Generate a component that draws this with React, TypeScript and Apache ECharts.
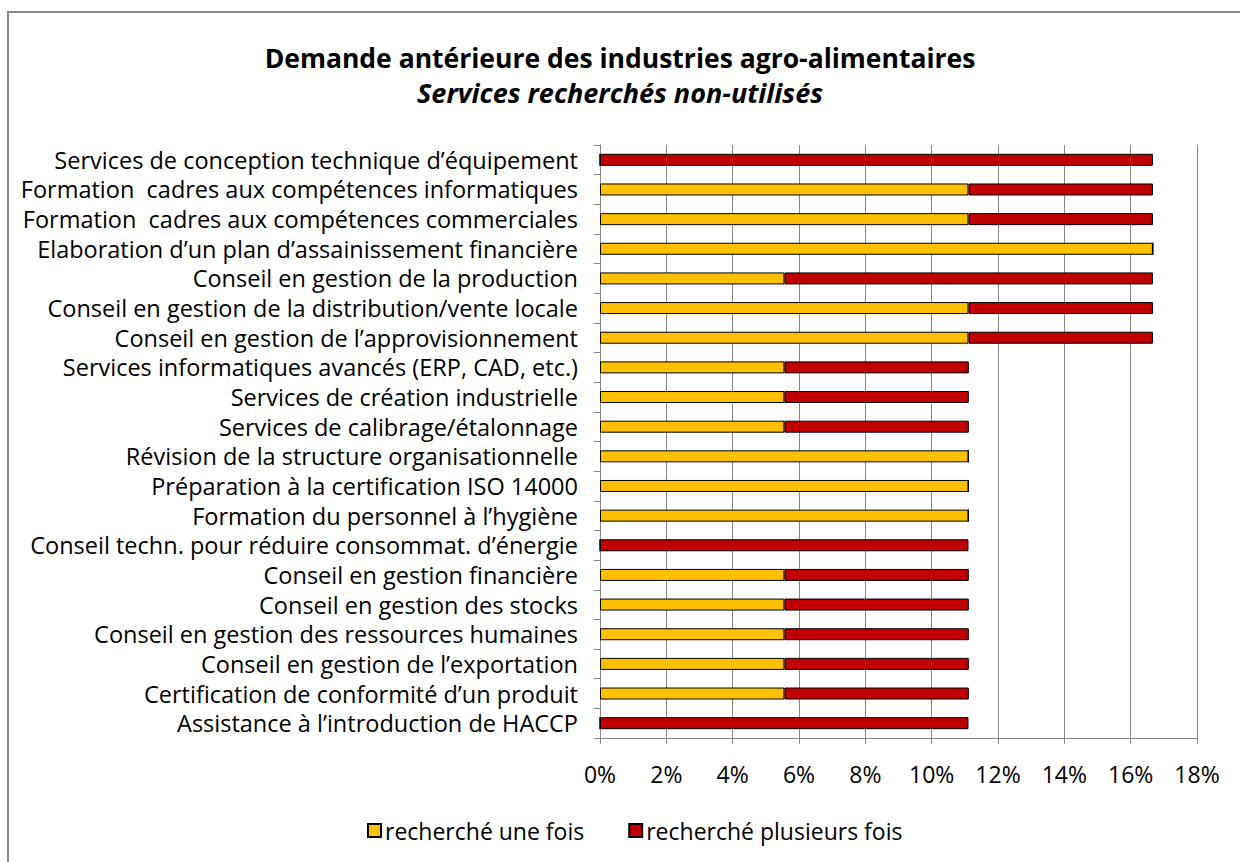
import React, { useEffect, useRef } from "react";
import * as echarts from "echarts";

const categories: string[] = [
  "Services de conception technique d’équipement",
  "Formation  cadres aux compétences informatiques",
  "Formation  cadres aux compétences commerciales",
  "Elaboration d’un plan d’assainissement financière",
  "Conseil en gestion de la production",
  "Conseil en gestion de la distribution/vente locale",
  "Conseil en gestion de l’approvisionnement",
  "Services informatiques avancés (ERP, CAD, etc.)",
  "Services de création industrielle",
  "Services de calibrage/étalonnage",
  "Révision de la structure organisationnelle",
  "Préparation à la certification ISO 14000",
  "Formation du personnel à l’hygiène",
  "Conseil techn. pour réduire consommat. d’énergie",
  "Conseil en gestion financière",
  "Conseil en gestion des stocks",
  "Conseil en gestion des ressources humaines",
  "Conseil en gestion de l’exportation",
  "Certification de conformité d’un produit",
  "Assistance à l’introduction de HACCP",
];

const uneFois: number[] = [
  0, 11.11, 11.11, 16.67, 5.56, 11.11, 11.11, 5.56, 5.56, 5.56,
  11.11, 11.11, 11.11, 0, 5.56, 5.56, 5.56, 5.56, 5.56, 0,
];

const plusieursFois: number[] = [
  16.67, 5.56, 5.56, 0, 11.11, 5.56, 5.56, 5.56, 5.56, 5.56,
  0, 0, 0, 11.11, 5.56, 5.56, 5.56, 5.56, 5.56, 11.11,
];

const seriesNames: string[] = ["recherché une fois", "recherché plusieurs fois"];
const titleText = "Demande antérieure des industries agro-alimentaires";
const subtitleText = "Services recherchés non-utilisés";

const FONT = "'Open Sans', Lato, sans-serif";

export default function App() {
  const ref = useRef<HTMLDivElement>(null);

  useEffect(() => {
    document.body.style.margin = "0";
    if (!ref.current) return;
    const chart = echarts.init(ref.current, undefined, { renderer: "svg" });
    chart.setOption({
      animation: false,
      backgroundColor: "#ffffff",
      textStyle: { fontFamily: FONT },
      graphic: [
        {
          type: "rect",
          shape: { x: 8, y: 12, width: 1300, height: 900 },
          style: { fill: "none", stroke: "#868686", lineWidth: 2 },
          silent: true,
        },
      ],
      title: [
        {
          text: titleText,
          left: "center",
          top: 39,
          textStyle: { fontFamily: FONT, fontSize: 26.5, fontWeight: "bold", color: "#000" },
        },
        {
          text: subtitleText,
          left: "center",
          top: 74,
          textStyle: { fontFamily: FONT, fontSize: 27, fontStyle: "italic", fontWeight: "bold", color: "#000" },
        },
      ],
      legend: {
        top: 814,
        left: 362,
        icon: "rect",
        itemWidth: 13,
        itemHeight: 13,
        itemGap: 44,
        textStyle: { fontFamily: FONT, fontSize: 23, color: "#000", padding: [0, 0, 0, -1] },
        data: seriesNames,
      },
      grid: { left: 600, right: 43, top: 145, bottom: 124, containLabel: false },
      xAxis: {
        type: "value",
        min: 0,
        max: 18,
        interval: 2,
        axisLine: { show: true, lineStyle: { color: "#868686" } },
        axisTick: { show: true, length: 6, lineStyle: { color: "#868686" } },
        splitLine: { show: true, lineStyle: { color: "#868686", width: 1 } },
        axisLabel: {
          formatter: "{value}%",
          fontFamily: FONT,
          fontSize: 23,
          color: "#000",
          margin: 24,
        },
      },
      yAxis: {
        type: "category",
        inverse: true,
        data: categories,
        axisLine: { show: true, lineStyle: { color: "#868686" } },
        axisTick: { show: true, length: 6, lineStyle: { color: "#868686" } },
        axisLabel: { fontFamily: FONT, fontSize: 23.5, color: "#000", margin: 22, interval: 0 },
      },
      series: [
        {
          name: seriesNames[0],
          type: "bar",
          stack: "total",
          barWidth: 12,
          data: uneFois,
          itemStyle: { color: "#FFC000", borderColor: "#000", borderWidth: 1 },
        },
        {
          name: seriesNames[1],
          type: "bar",
          stack: "total",
          barWidth: 12,
          data: plusieursFois,
          itemStyle: { color: "#C00000", borderColor: "#000", borderWidth: 1 },
        },
      ],
    });
    return () => chart.dispose();
  }, []);

  return <div ref={ref} style={{ width: 1240, height: 862 }} />;
}
